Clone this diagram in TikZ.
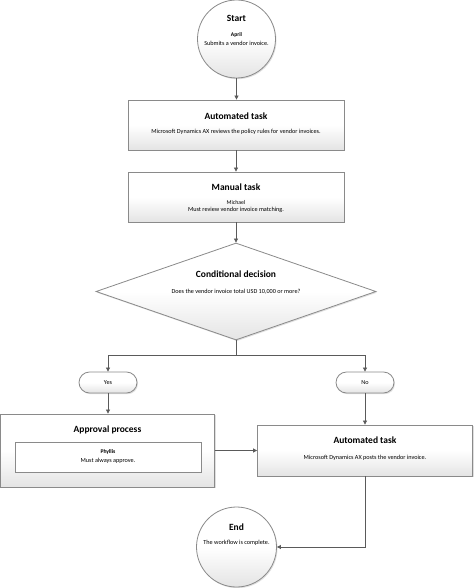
\documentclass[tikz,border=0pt]{standalone}
\usepackage{fontspec}
\setmainfont{Carlito}
\usetikzlibrary{shapes.geometric,arrows.meta,shadows,calc}
\definecolor{edge}{HTML}{8A8A8A}
\definecolor{wire}{HTML}{5A5A5A}
\definecolor{shadeb}{HTML}{E4E4E4}
\tikzset{
  shp/.style={draw=edge, line width=0.8pt, top color=white, bottom color=shadeb, middle color=white,
    drop shadow={shadow xshift=1pt, shadow yshift=-1.2pt, opacity=0.25}},
  circ/.style={shp, circle, minimum size=#1pt, inner sep=0pt},
  box/.style={shp, rectangle, inner sep=0pt},
  term/.style={shp, rectangle, rounded corners=10.5pt, minimum width=58pt, minimum height=21pt, inner sep=0pt, font=\fontsize{6.2}{7}\selectfont},
  ttl/.style={font=\bfseries\fontsize{9.5}{11}\selectfont, inner sep=0pt},
  bdy/.style={font=\fontsize{6.2}{7.5}\selectfont, inner sep=0pt, align=center},
  who/.style={font=\bfseries\fontsize{5.6}{7}\selectfont, inner sep=0pt},
  conn/.style={draw=wire, line width=0.7pt, -{Triangle[length=4pt,width=4pt]}},
  seg/.style={draw=wire, line width=0.7pt}
}
\begin{document}
\begin{tikzpicture}[x=1pt,y=-1pt]
\useasboundingbox (0,0) rectangle (474,588);
% shapes
\node[circ=78] (start) at (236.5,39) {};
\node[box, minimum width=216pt, minimum height=50pt] (auto1) at (236,125) {};
\node[box, minimum width=216pt, minimum height=50pt] (manual) at (236,197) {};
\node[shp, diamond, minimum width=280pt, minimum height=97pt, inner sep=0pt] (dec) at (236,291.5) {};
\node[term] (yes) at (108,382.5) {Yes};
\node[term] (no) at (365,382.5) {No};
\node[box, minimum width=214pt, minimum height=73pt] (appr) at (107.5,450.5) {};
\node[draw=edge, line width=0.8pt, fill=white, rectangle, minimum width=186pt, minimum height=30pt, inner sep=0pt] (inner) at (108,457) {};
\node[box, minimum width=215pt, minimum height=51pt] (auto2) at (365,450.5) {};
\node[circ=80] (end) at (236.5,547) {};
% texts
\node[ttl] (startT) at (236.5,18) {Start};
\node[who] (startW) at (236.5,35) {April};
\node[bdy] (startB) at (236.5,43.5) {Submits a vendor invoice.};
\node[ttl] (auto1T) at (236,116) {Automated task};
\node[bdy] (auto1B) at (236,132) {Microsoft Dynamics AX reviews the policy rules for vendor invoices.};
\node[ttl] (manT) at (236,187.5) {Manual task};
\node[who, font=\fontsize{5.8}{7}\selectfont] (manW) at (236,203) {Michael};
\node[bdy] (manB) at (236,209.5) {Must review vendor invoice matching.};
\node[ttl] (decT) at (236,274) {Conditional decision};
\node[bdy] (decB) at (236,292) {Does the vendor invoice total USD 10,000 or more?};
\node[ttl] (apprT) at (107.5,430) {Approval process};
\node[who] (apprW) at (108,452) {Phyllis};
\node[bdy] (apprB) at (108,461) {Must always approve.};
\node[ttl] (auto2T) at (365,440) {Automated task};
\node[bdy] (auto2B) at (365,457.5) {Microsoft Dynamics AX posts the vendor invoice.};
\node[ttl] (endT) at (236.5,527) {End};
\node[bdy] (endB) at (236.5,543) {The workflow is complete.};
% connectors
\coordinate (split) at (236,355);
\draw[conn] (start.south) -- (auto1.north -| start.south);
\draw[conn] (auto1.south) -- (manual.north);
\draw[conn] (manual.south) -- (dec.north);
\draw[seg] (dec.south) -- (split);
\draw[conn] (split) -| (yes.north);
\draw[conn] (split) -| (no.north);
\draw[conn] (yes.south) -- (yes.south |- appr.north);
\draw[conn] (no.south) -- (auto2.north);
\draw[conn] (appr.east) -- (auto2.west);
\draw[conn] (auto2.south) |- (end.east);
\end{tikzpicture}
\end{document}
